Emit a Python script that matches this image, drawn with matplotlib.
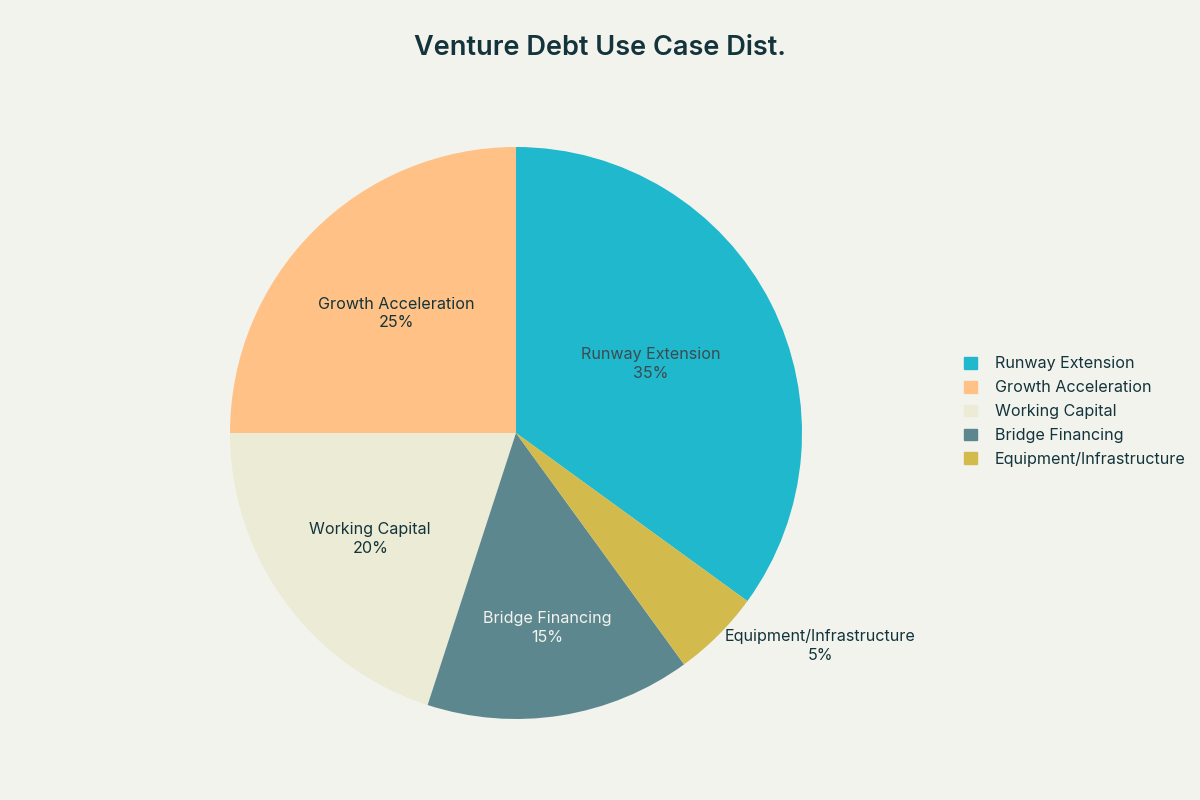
import matplotlib
matplotlib.use("Agg")
import matplotlib.pyplot as plt
import numpy as np

categories = ["Runway Extension", "Growth Acceleration", "Working Capital",
              "Bridge Financing", "Equipment/Infrastructure"]
shares = [35, 25, 20, 15, 5]
colors = ["#1FB8CD", "#FFC185", "#ECEBD5", "#5D878F", "#D2BA4C"]
label_colors = ["#3d4b50", "#13343B", "#13343B", "#F3F3EE", "#13343B"]
label_radius = [0.53, 0.59, 0.63, 0.69, 1.30]

plt.rcParams['font.family'] = ['Inter', 'DejaVu Sans']
bg = "#F3F3EE"

fig = plt.figure(figsize=(12, 8), dpi=100, facecolor=bg)
R = 286
cx, cy = 516, 433
ax = fig.add_axes([(cx - R) / 1200, (800 - cy - R) / 800, 2 * R / 1200, 2 * R / 800])
ax.set_facecolor(bg)

start = 90 - 360 * shares[0] / sum(shares)
wedges, _ = ax.pie(shares, colors=colors, startangle=start, counterclock=True,
                   radius=1, labels=None,
                   wedgeprops=dict(linewidth=0))
ax.set_xlim(-1, 1)
ax.set_ylim(-1, 1)
ax.set_aspect('equal')
ax.axis('off')

for w, cat, s, c, r in zip(wedges, categories, shares, label_colors, label_radius):
    mid = np.deg2rad((w.theta1 + w.theta2) / 2)
    if r > 1:
        # outside label, pulled toward horizontal like the source
        mid = mid + np.deg2rad(10)
    ax.text(r * np.cos(mid), r * np.sin(mid), f"{cat}\n{s}%",
            ha='center', va='center', fontsize=11.6, color=c,
            linespacing=1.3, clip_on=False)

fig.text(0.5, 0.94, "Venture Debt Use Case Dist.", ha='center', va='center',
         fontsize=19.5, fontweight='semibold', color="#13343B")

handles = [plt.Rectangle((0, 0), 1, 1, color=col) for col in colors]
leg = fig.legend(handles, categories, loc='upper left',
                 bbox_to_anchor=(958 / 1200, 1 - 350 / 800),
                 frameon=False, fontsize=11.6, handlelength=0.75, handleheight=0.75,
                 handletextpad=1.15, labelspacing=0.55, borderaxespad=0)
for t in leg.get_texts():
    t.set_color("#13343B")

fig.savefig("out.png", dpi=100, facecolor=bg)
